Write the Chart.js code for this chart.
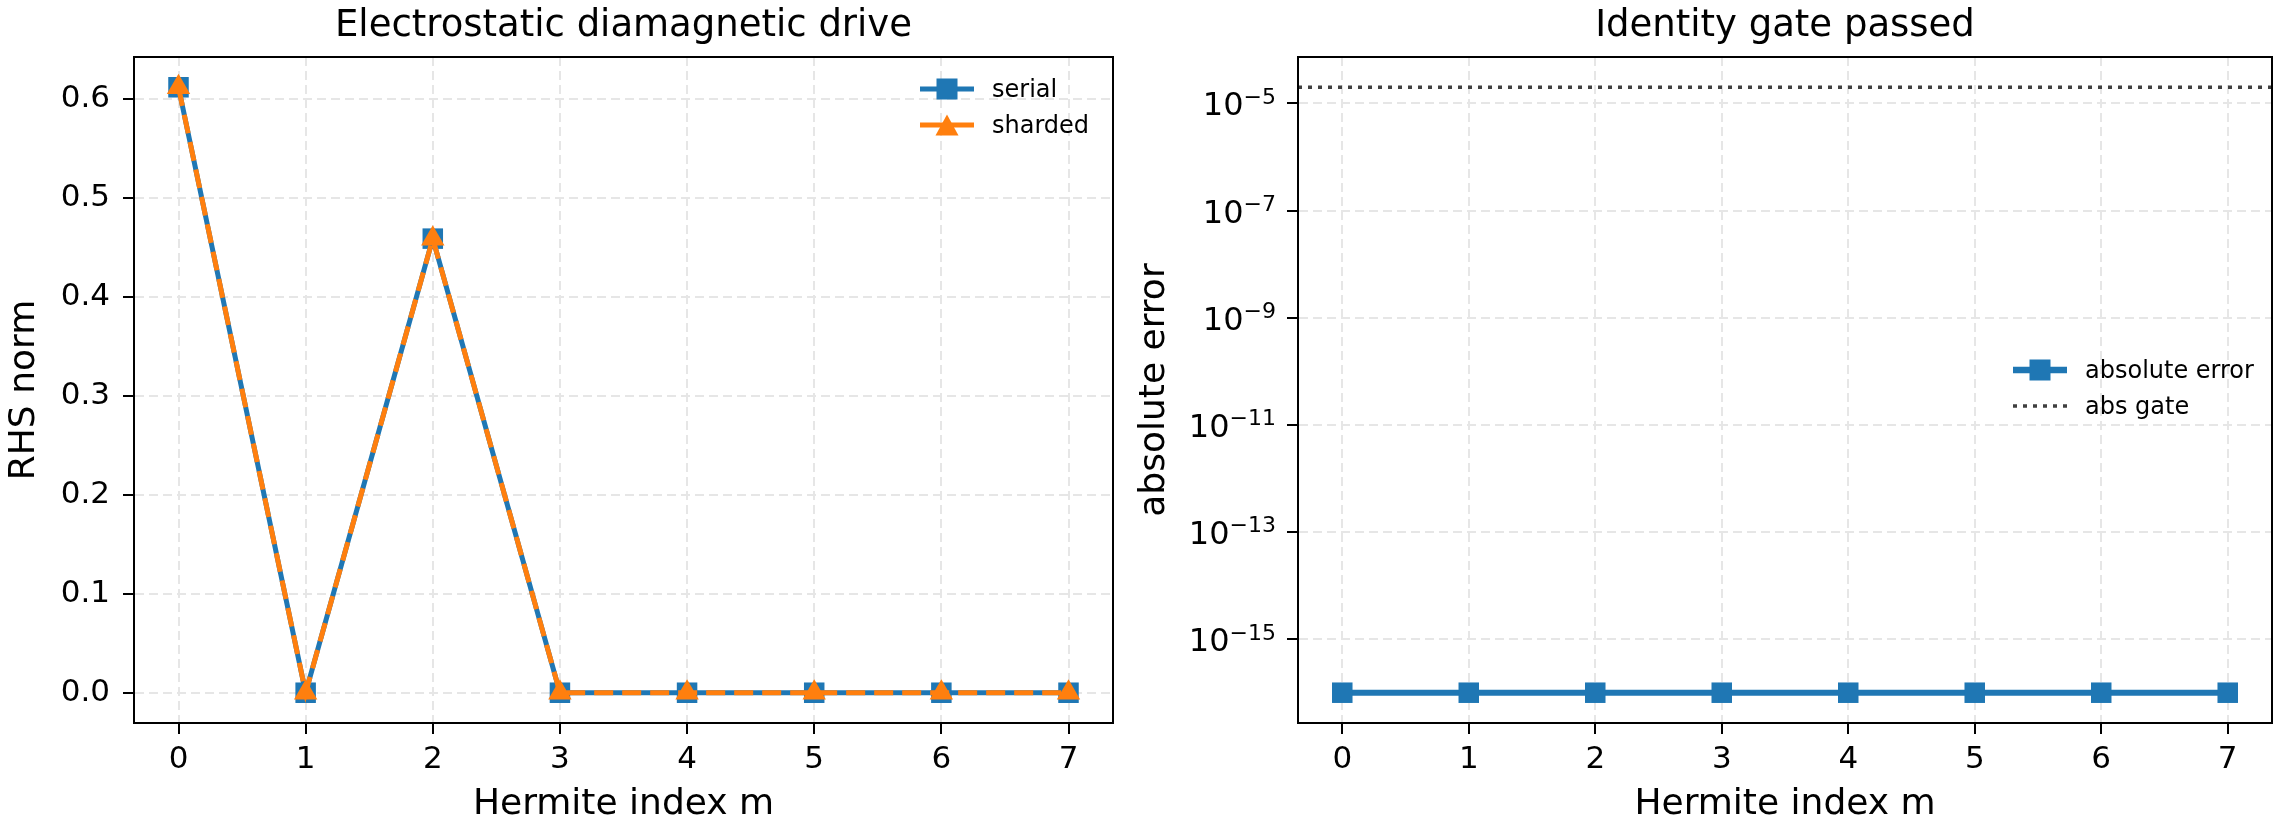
<!DOCTYPE html>
<html>
<head>
<meta charset="utf-8">
<script src="https://cdn.jsdelivr.net/npm/chart.js@4.4.0/dist/chart.umd.min.js"></script>
<style>
  html, body { margin: 0; padding: 0; background: #fff; }
  body { width: 2288px; height: 836px; position: relative; overflow: hidden; }
  .panel { position: absolute; top: 0; height: 836px; }
  #leftPanel { left: 0; width: 1130px; }
  #rightPanel { left: 1130px; width: 1158px; }
</style>
</head>
<body>
<div class="panel" id="leftPanel"><canvas id="rhsChart"></canvas></div>
<div class="panel" id="rightPanel"><canvas id="errChart"></canvas></div>
<script>
// data
const hermiteIndex = [0, 1, 2, 3, 4, 5, 6, 7];
const serialNorm = [0.612, 0.0, 0.459, 0.0, 0.0, 0.0, 0.0, 0.0];
const shardedNorm = [0.612, 0.0, 0.459, 0.0, 0.0, 0.0, 0.0, 0.0];
const absError = [1e-16, 1e-16, 1e-16, 1e-16, 1e-16, 1e-16, 1e-16, 1e-16];
const absGate = 2e-5;
const rhsTicks = [0.0, 0.1, 0.2, 0.3, 0.4, 0.5, 0.6];
const errTicks = [1e-15, 1e-13, 1e-11, 1e-9, 1e-7, 1e-5];
const xRange = [-0.35, 7.35];
const rhsRange = [-0.0306, 0.6426];
const errRange = [2.72e-17, 7.35e-5];

const BLUE = '#1f77b4';
const ORANGE = '#ff7f0e';
const FONT = "'DejaVu Sans', sans-serif";
const TICK_SIZE = 31;
const LABEL_SIZE = 36;
const TITLE_SIZE = 37;

Chart.defaults.font.family = FONT;
Chart.defaults.color = '#000';

// box around the plot area, like matplotlib spines
const framePlugin = {
  id: 'frame',
  afterDatasetsDraw(chart) {
    const a = chart.chartArea, ctx = chart.ctx;
    ctx.save();
    ctx.strokeStyle = '#000';
    ctx.lineWidth = 2;
    ctx.strokeRect(a.left, a.top, a.right - a.left, a.bottom - a.top);
    ctx.restore();
  }
};

// 10^n tick labels with a raised exponent
const powerTicks = {
  id: 'powerTicks',
  afterDraw(chart, args, opts) {
    if (!opts.enabled) return;
    const s = chart.scales.y, ctx = chart.ctx;
    const xr = chart.chartArea.left - 22;
    ctx.save();
    ctx.fillStyle = '#000';
    ctx.textAlign = 'right';
    ctx.textBaseline = 'alphabetic';
    s.ticks.forEach(t => {
      const y = s.getPixelForValue(t.value);
      const exp = String(Math.round(Math.log10(t.value))).replace('-', '\u2212');
      ctx.font = '22px ' + FONT;
      const ew = ctx.measureText(exp).width;
      ctx.fillText(exp, xr, y + 0.5);
      ctx.font = '32px ' + FONT;
      ctx.fillText('10', xr - ew, y + 12);
    });
    ctx.restore();
  }
};

// legend with line + marker handles
const handleLegend = {
  id: 'handleLegend',
  afterDraw(chart, args, opts) {
    if (!opts.items) return;
    const a = chart.chartArea, ctx = chart.ctx;
    const x0 = a.right - opts.right;
    opts.items.forEach((it, i) => {
      const y = a.top + opts.top + i * opts.gap;
      ctx.save();
      ctx.strokeStyle = it.color;
      ctx.lineWidth = it.width;
      ctx.setLineDash(it.dash || []);
      ctx.beginPath();
      ctx.moveTo(x0, y);
      ctx.lineTo(x0 + 54, y);
      ctx.stroke();
      ctx.setLineDash([]);
      ctx.fillStyle = it.color;
      const cx = x0 + 27;
      if (it.marker === 'rect') {
        ctx.fillRect(cx - 10.5, y - 10.5, 21, 21);
      } else if (it.marker === 'triangle') {
        ctx.beginPath();
        ctx.moveTo(cx, y - 10.5);
        ctx.lineTo(cx + 11.5, y + 10.5);
        ctx.lineTo(cx - 11.5, y + 10.5);
        ctx.closePath();
        ctx.fill();
      }
      ctx.fillStyle = '#000';
      ctx.font = '24px ' + FONT;
      ctx.textBaseline = 'alphabetic';
      ctx.textAlign = 'left';
      ctx.fillText(it.label, x0 + 72, y + 8);
      ctx.restore();
    });
  }
};

function gridOpts() {
  return { color: '#e6e6e6', lineWidth: 2, tickColor: '#000', tickLength: 11, tickWidth: 2 };
}

function xAxis() {
  return {
    type: 'linear',
    min: xRange[0],
    max: xRange[1],
    afterBuildTicks: s => { s.ticks = hermiteIndex.map(v => ({ value: v })); },
    afterFit: s => { s.height = 113; },
    ticks: { font: { size: TICK_SIZE }, padding: 7, maxRotation: 0, autoSkip: false, callback: v => String(v) },
    grid: gridOpts(),
    border: { display: true, color: '#000', width: 2, dash: [9, 5] },
    title: { display: true, text: 'Hermite index m', font: { size: LABEL_SIZE }, padding: { top: 0, bottom: 10 } }
  };
}

function chartTitle(text) {
  return {
    display: true, text: text, fullSize: false, color: '#000',
    font: { size: TITLE_SIZE, weight: 'normal' },
    padding: { top: 4, bottom: 8.6 }
  };
}

new Chart(document.getElementById('rhsChart'), {
  type: 'line',
  data: {
    datasets: [
      {
        label: 'serial',
        data: hermiteIndex.map((m, i) => ({ x: m, y: serialNorm[i] })),
        borderColor: BLUE, backgroundColor: BLUE, borderWidth: 5,
        pointStyle: 'rect', pointRadius: 14.5, pointBorderWidth: 0,
        order: 2
      },
      {
        label: 'sharded',
        data: hermiteIndex.map((m, i) => ({ x: m, y: shardedNorm[i] })),
        borderColor: ORANGE, backgroundColor: ORANGE, borderWidth: 5, borderDash: [19, 9],
        pointStyle: 'triangle', pointRadius: 13.5, pointBorderWidth: 0,
        order: 1
      }
    ]
  },
  options: {
    responsive: true,
    maintainAspectRatio: false,
    animation: false,
    devicePixelRatio: 1,
    layout: { padding: { left: 0, right: 17, top: 0, bottom: 0 } },
    plugins: {
      legend: { display: false },
      tooltip: { enabled: false },
      title: chartTitle('Electrostatic diamagnetic drive'),
      handleLegend: {
        right: 193, top: 32, gap: 36,
        items: [
          { label: 'serial', color: BLUE, width: 5, marker: 'rect' },
          { label: 'sharded', color: ORANGE, width: 5, marker: 'triangle' }
        ]
      }
    },
    scales: {
      x: xAxis(),
      y: {
        min: rhsRange[0],
        max: rhsRange[1],
        afterBuildTicks: s => { s.ticks = rhsTicks.map(v => ({ value: v })); },
        afterFit: s => { s.width = 134; },
        ticks: { font: { size: TICK_SIZE }, padding: 13, callback: v => Number(v).toFixed(1) },
        grid: gridOpts(),
        border: { display: true, color: '#000', width: 2, dash: [9, 5] },
        title: { display: true, text: 'RHS norm', font: { size: LABEL_SIZE }, padding: { top: 3, bottom: 0 } }
      }
    }
  },
  plugins: [framePlugin, handleLegend]
});

new Chart(document.getElementById('errChart'), {
  type: 'line',
  data: {
    datasets: [
      {
        label: 'absolute error',
        data: hermiteIndex.map((m, i) => ({ x: m, y: absError[i] })),
        borderColor: BLUE, backgroundColor: BLUE, borderWidth: 6,
        pointStyle: 'rect', pointRadius: 14.5, pointBorderWidth: 0
      },
      {
        label: 'abs gate',
        data: xRange.map(x => ({ x: x, y: absGate })),
        borderColor: '#404040', borderWidth: 3.5, borderDash: [4, 6], borderCapStyle: 'butt',
        pointRadius: 0
      }
    ]
  },
  options: {
    responsive: true,
    maintainAspectRatio: false,
    animation: false,
    devicePixelRatio: 1,
    layout: { padding: { left: 0, right: 16, top: 0, bottom: 0 } },
    plugins: {
      legend: { display: false },
      tooltip: { enabled: false },
      title: chartTitle('Identity gate passed'),
      powerTicks: { enabled: true },
      handleLegend: {
        right: 259, top: 313, gap: 36,
        items: [
          { label: 'absolute error', color: BLUE, width: 6.5, marker: 'rect' },
          { label: 'abs gate', color: '#404040', width: 3.5, dash: [4, 6] }
        ]
      }
    },
    scales: {
      x: xAxis(),
      y: {
        type: 'logarithmic',
        min: errRange[0],
        max: errRange[1],
        afterBuildTicks: s => { s.ticks = errTicks.map(v => ({ value: v })); },
        afterFit: s => { s.width = 168; },
        ticks: { display: false },
        grid: gridOpts(),
        border: { display: true, color: '#000', width: 2, dash: [9, 5] },
        title: { display: true, text: 'absolute error', font: { size: LABEL_SIZE }, padding: { top: 3, bottom: 0 } }
      }
    }
  },
  plugins: [framePlugin, handleLegend, powerTicks]
});
</script>
</body>
</html>
